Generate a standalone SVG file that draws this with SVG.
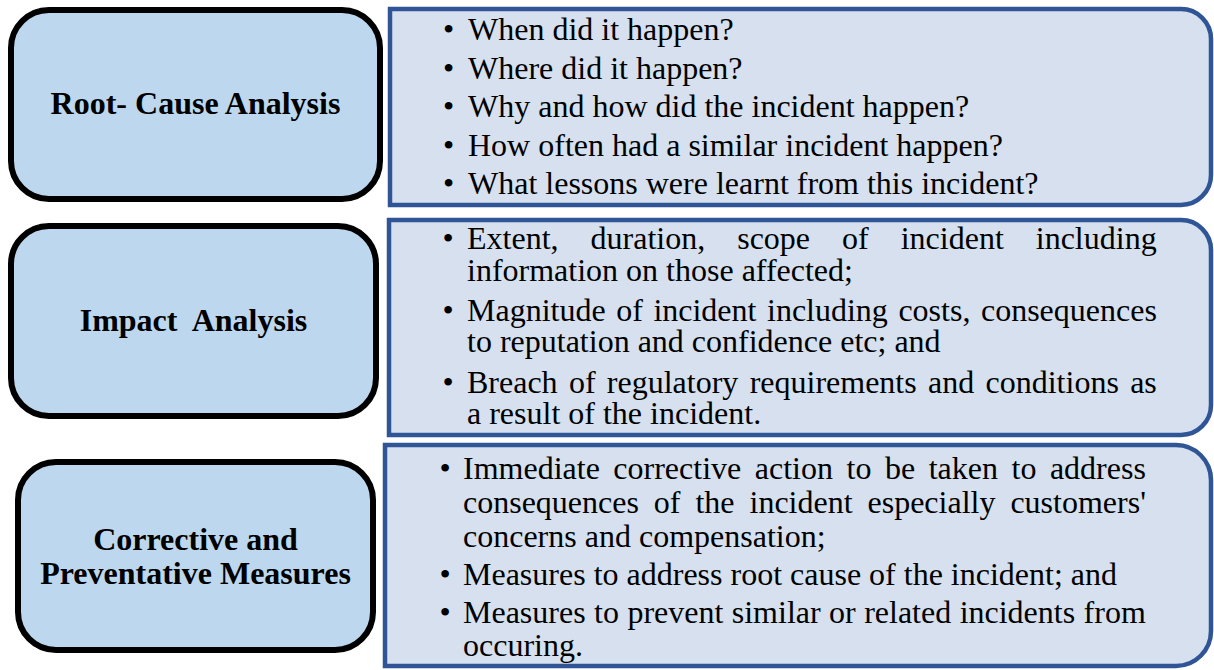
<svg xmlns="http://www.w3.org/2000/svg" width="1214" height="670" viewBox="0 0 1214 670">
<style>
.lbox{fill:#BDD7EE;stroke:#000;stroke-width:6}
.rbox{fill:#D6E0EF;stroke:#2F5597;stroke-width:4.5}
.lbl{font-family:"Liberation Serif","Times New Roman",serif;font-weight:bold;font-size:32px;fill:#000;text-anchor:middle}
.txt{font-family:"Liberation Serif","Times New Roman",serif;font-size:32px;fill:#000}
</style>
<rect width="1214" height="670" fill="#fff"/>
<g id="connectors"/>
<g id="root-cause">
<rect class="lbox" x="11" y="10" width="369" height="189" rx="38"/>
<text class="lbl" x="195.5" y="114">Root- Cause Analysis</text>
</g>
<g id="root-cause-details">
<path class="rbox" d="M390,9 H1181 A30,30 0 0 1 1211,39 V175 A30,30 0 0 1 1181,205 H390 Z"/>
<text class="txt">
<tspan x="443" y="40">•</tspan><tspan x="468" y="40">When did it happen?</tspan>
<tspan x="443" y="79">•</tspan><tspan x="468" y="79">Where did it happen?</tspan>
<tspan x="443" y="117">•</tspan><tspan x="468" y="117">Why and how did the incident happen?</tspan>
<tspan x="443" y="156">•</tspan><tspan x="468" y="156">How often had a similar incident happen?</tspan>
<tspan x="443" y="194">•</tspan><tspan x="468" y="194">What lessons were learnt from this incident?</tspan>
</text>
</g>
<g id="impact">
<rect class="lbox" x="11" y="226" width="365" height="190" rx="38"/>
<text class="lbl" x="193.5" y="331" xml:space="preserve">Impact  Analysis</text>
</g>
<g id="impact-details">
<path class="rbox" d="M389,220 H1181 A30,30 0 0 1 1211,250 V405 A30,30 0 0 1 1181,435 H389 Z"/>
<text class="txt">
<tspan x="442.5" y="249">•</tspan><tspan x="467" y="249" word-spacing="24">Extent, duration, scope of incident including</tspan>
<tspan x="467" y="281">information on those affected;</tspan>
<tspan x="442.5" y="321">•</tspan><tspan x="467" y="321" word-spacing="2.54">Magnitude of incident including costs, consequences</tspan>
<tspan x="467" y="352">to reputation and confidence etc; and</tspan>
<tspan x="442.5" y="393">•</tspan><tspan x="467" y="393" word-spacing="3.3">Breach of regulatory requirements and conditions as</tspan>
<tspan x="467" y="424">a result of the incident.</tspan>
</text>
</g>
<g id="corrective">
<rect class="lbox" x="18" y="462" width="355" height="188" rx="38"/>
<text class="lbl"><tspan x="195.5" y="550">Corrective and</tspan><tspan x="195.5" y="584">Preventative Measures</tspan></text>
</g>
<g id="corrective-details">
<path class="rbox" d="M385,445 H1176 A35,35 0 0 1 1211,480 V631 A35,35 0 0 1 1176,666 H385 Z"/>
<text class="txt">
<tspan x="439.5" y="479">•</tspan><tspan x="463" y="479" word-spacing="5.53">Immediate corrective action to be taken to address</tspan>
<tspan x="463" y="513" word-spacing="6.94">consequences of the incident especially customers'</tspan>
<tspan x="463" y="547">concerns and compensation;</tspan>
<tspan x="439.5" y="585">•</tspan><tspan x="463" y="585">Measures to address root cause of the incident; and</tspan>
<tspan x="439.5" y="623">•</tspan><tspan x="463" y="623" word-spacing="0.43">Measures to prevent similar or related incidents from</tspan>
<tspan x="463" y="656">occuring.</tspan>
</text>
</g>
</svg>
